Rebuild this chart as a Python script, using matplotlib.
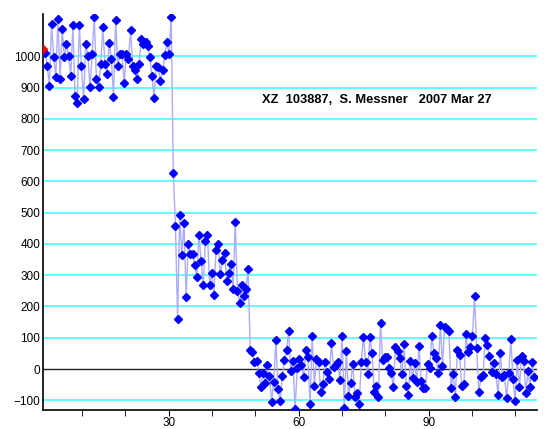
import numpy as np
import matplotlib
matplotlib.use("Agg")
import matplotlib.pyplot as plt

# light curve readings (one per frame)
before = [1024, 1010, 968, 906, 1102, 996, 934, 1120, 928, 1087,
          996, 1038, 1000, 937, 1099, 872, 851, 1099, 968, 862,
          1038, 1000, 902, 1006, 1125, 928, 902, 974, 1094, 974,
          944, 1043, 992, 870, 1117, 968, 1006, 1006, 913, 1006,
          992, 1083, 968, 955, 926, 976, 1056, 1038, 1045, 1032,
          996, 938, 868, 968, 964, 921, 957, 1003, 1045, 1008,
          1126]
companion = [628, 457, 159, 492, 364, 467, 231, 401, 367, 367,
             332, 293, 429, 346, 269, 408, 429, 269, 308, 237,
             380, 401, 303, 348, 370, 282, 308, 337, 255, 470,
             250, 210, 269, 233, 255, 319]
after = [61, 53, 23, 26, -12, -58, -12, -46, 13, -22,
         -105, -41, 93, -65, -101, -22, 29, 61, 122, -5,
         27, -129, 2, 31, 13, -26, 61, 39, -112, 106,
         -54, 31, 23, -72, -48, 23, -8, -33, 84, 5,
         13, 21, -35, 106,
         -126, 58, -86, -44, 16, -88, -78, -112, 23, 103,
         23, -16, 103, 50, -72, -54, -88, 148, 29, 37,
         40, 2, -12, -58, 69, 58,
         34, -16, 79, -54, -83, 27, -30, 20, -41, 75,
         -37, -62, -62, 16, 2, 106, 52, 34, -12, 141,
         10, 135, 127, 122, -62, -16, -88, 61, 45, -54,
         -48, 112, 55, 71, 105, 233, 66, -75, -27, -19,
         98, 77, 42, -8, 20, -16, -83, 52, -25, -19,
         -94, -12, 95, -33, -101, 29, -58, 42, 27, -76,
         -5, -58, 23, -25]

title = "XZ  103887,  S. Messner   2007 Mar 27"
frame_step = 0.493

y = np.array(before + companion + after)
x = 1 + frame_step * np.arange(len(y))

plt.rcParams['font.family'] = ['Liberation Sans', 'DejaVu Sans']

fig = plt.figure(figsize=(5.47, 4.29), dpi=100)
ax = fig.add_axes([43/547, 1 - 410/429, 494/547, 396/429])

for v in range(-100, 1001, 100):
    if v == 0:
        ax.axhline(v, color='#222222', lw=1.0, zorder=1)
    else:
        ax.axhline(v, color='#33ffff', lw=1.1, zorder=1)

ax.plot(x, y, color='#acacfa', lw=1.0, zorder=2)
ax.plot(x[1:], y[1:], 'D', color='#0000ff', ms=4.5, mec='#0000ff', zorder=3)
ax.plot(x[:1], y[:1], 'D', color='#ff0000', ms=4.5, mec='#ff0000', zorder=4)

ax.set_xlim(1, 115)
ax.set_ylim(-131, 1135)
ax.set_yticks(range(-100, 1001, 100))
ax.set_xticks([30, 60, 90])
ax.set_xticks([10, 20, 40, 50, 70, 80, 100, 110], minor=True)
ax.tick_params(axis='y', length=0, labelsize=8.5, pad=2)
ax.tick_params(axis='x', which='both', length=4.3, labelsize=8.5, pad=0.5, direction='out')
ax.spines['top'].set_visible(False)
ax.spines['right'].set_visible(False)
ax.spines['left'].set_linewidth(1.2)
ax.spines['bottom'].set_linewidth(1.2)

ax.text(0.443, 0.783, title, transform=ax.transAxes, fontsize=9.3,
        fontweight='bold', ha='left', va='center')

fig.savefig("out.png", dpi=100)
